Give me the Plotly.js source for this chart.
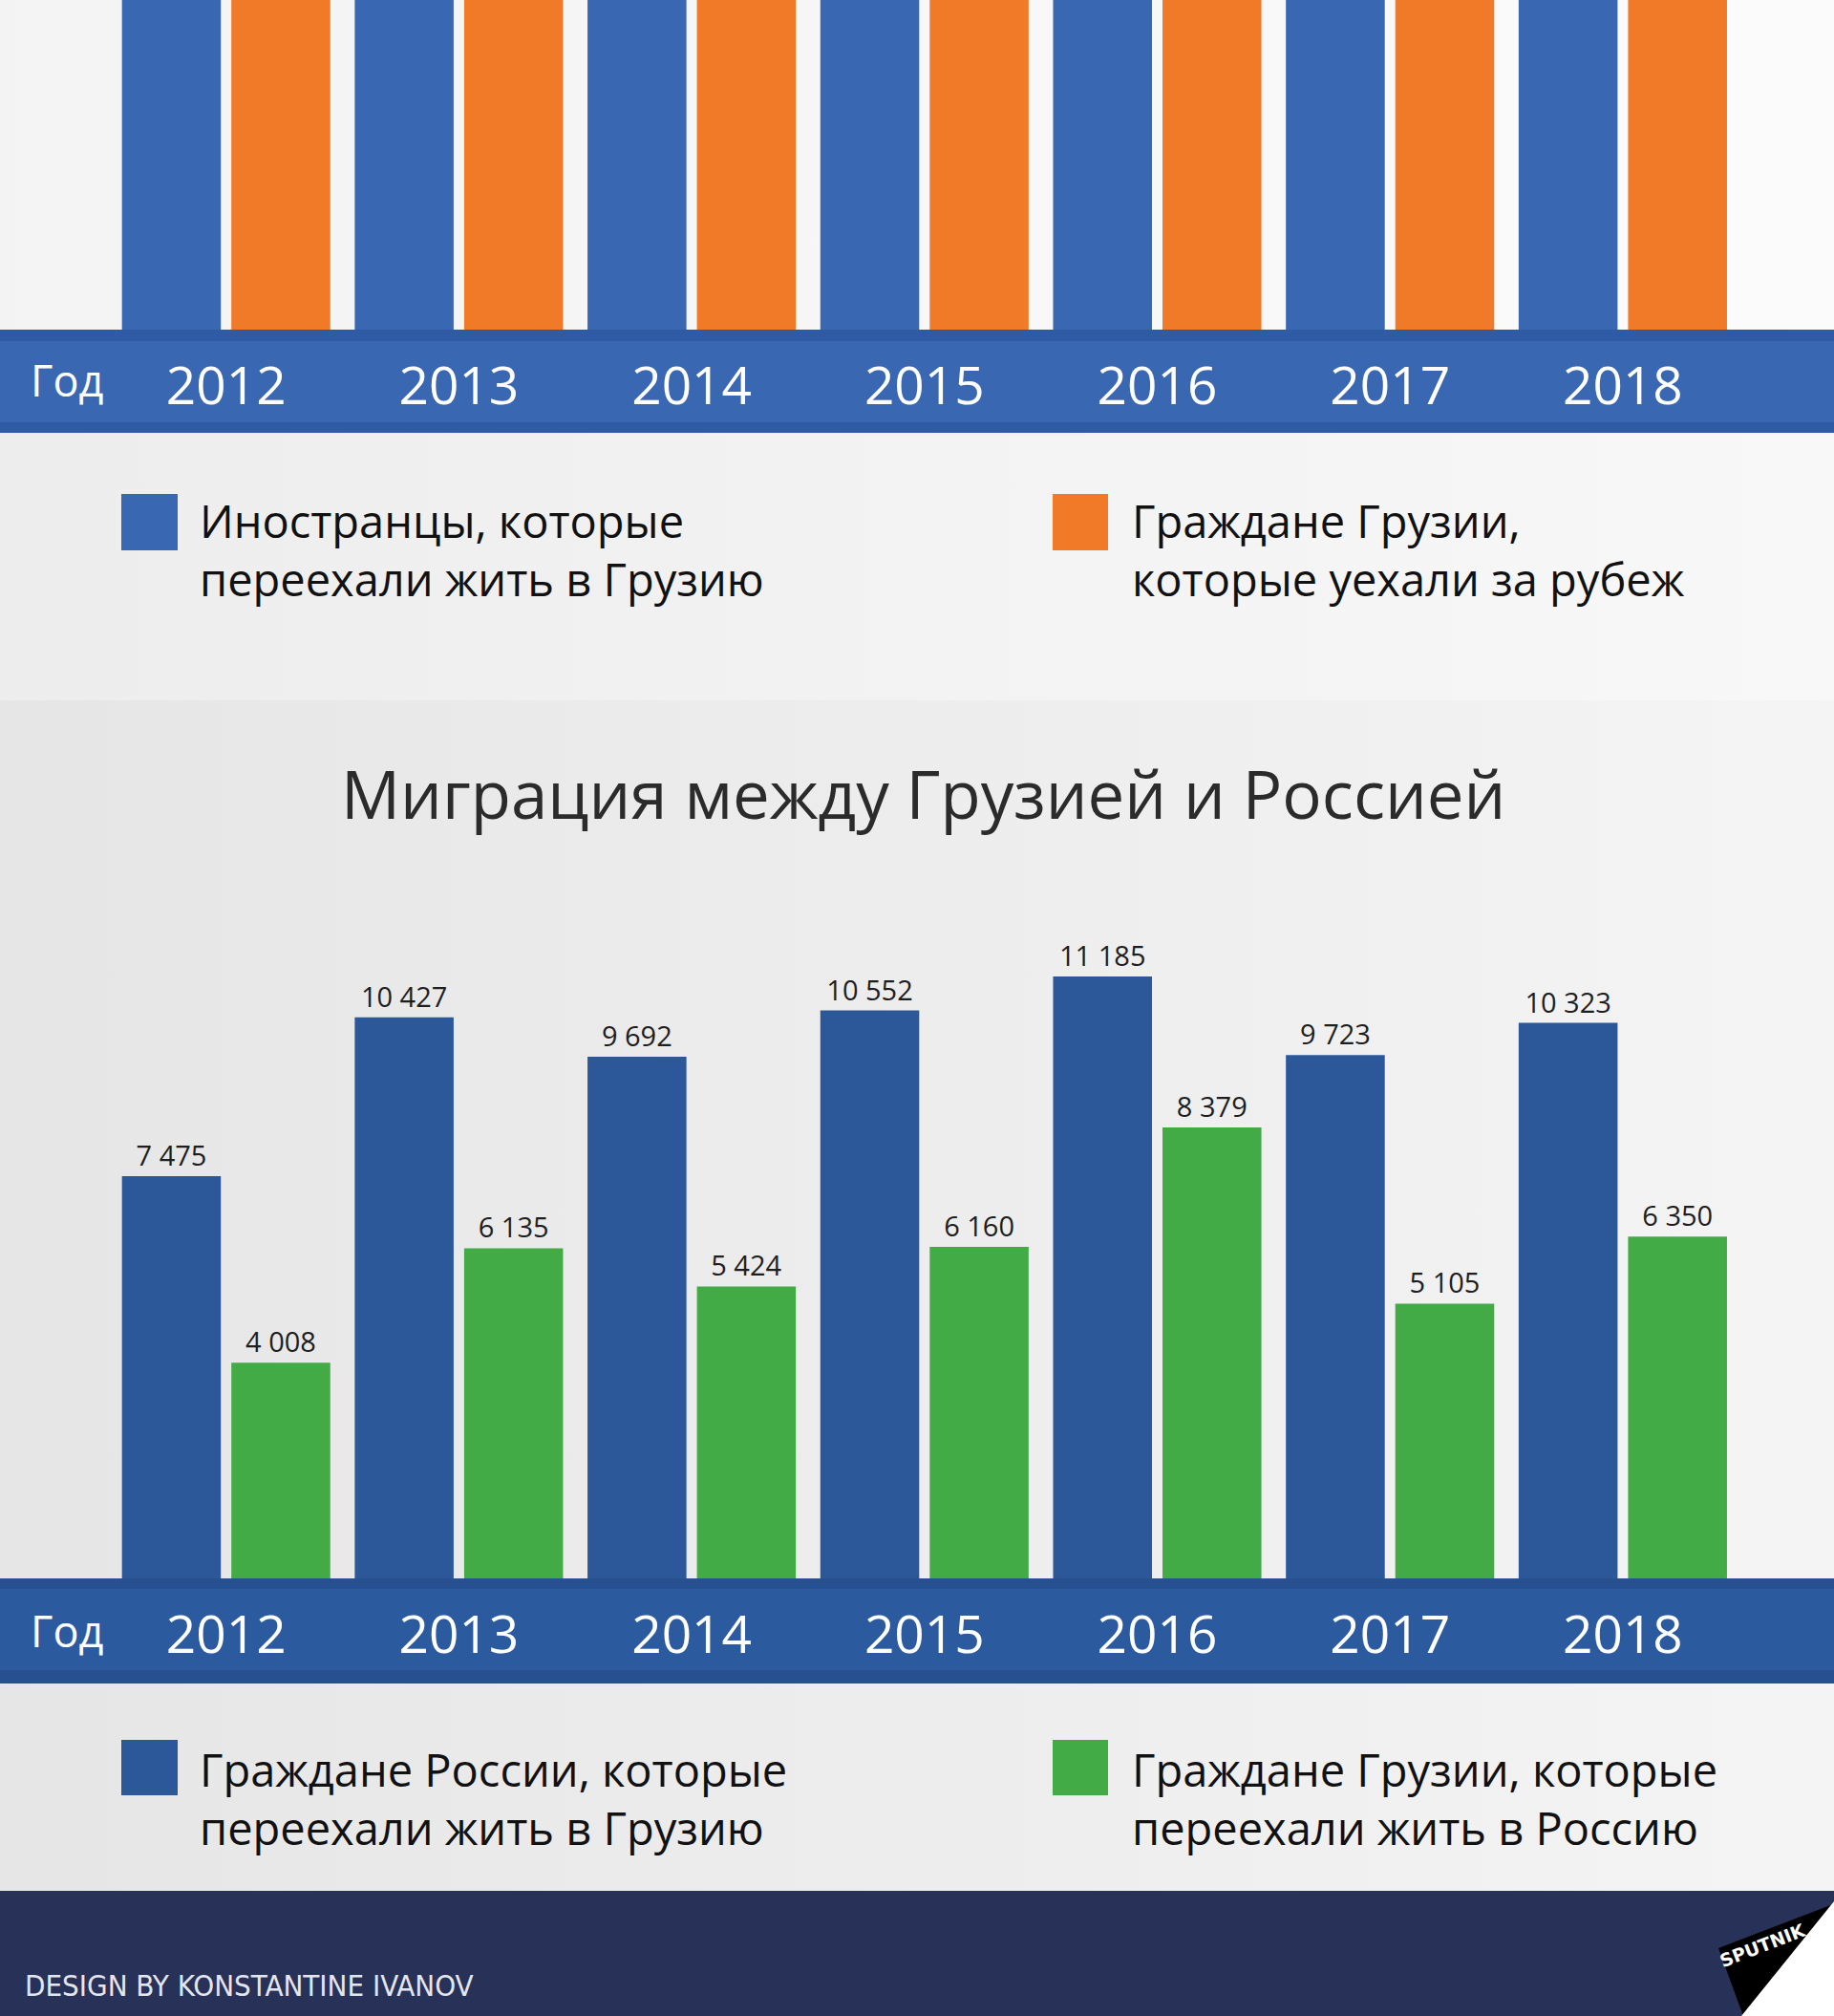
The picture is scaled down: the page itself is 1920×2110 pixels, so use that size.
<!DOCTYPE html>
<html>
<head>
<meta charset="utf-8">
<script src="https://cdn.plot.ly/plotly-3.0.1.min.js"></script>
<style>
  html, body { margin: 0; padding: 0; background: #f4f4f4; }
  #chart { width: 1920px; height: 2110px; }
</style>
</head>
<body>
<div id="chart"></div>
<script>
var years = ['2012', '2013', '2014', '2015', '2016', '2017', '2018'];

// upper chart: bars run off the top edge of the picture, only their lower part shows
var topForeigners = [6125, 6125, 6125, 6125, 6125, 6125, 6125];
var topEmigrants = [6125, 6125, 6125, 6125, 6125, 6125, 6125];

// lower chart: Georgia <-> Russia
var ruToGeorgia = [7475, 10427, 9692, 10552, 11185, 9723, 10323];
var geToRussia = [4008, 6135, 5424, 6160, 8379, 5105, 6350];

var legendTop = ['Иностранцы, которые<br>переехали жить в Грузию', 'Граждане Грузии,<br>которые уехали за рубеж'];
var legendBottom = ['Граждане России, которые<br>переехали жить в Грузию', 'Граждане Грузии, которые<br>переехали жить в Россию'];
var title = 'Миграция между Грузией и Россией';
var yearWord = 'Год';
var credit = 'DESIGN BY KONSTANTINE IVANOV';

var W = 1920, H = 2110;
function X(px) { return px / W; }
function Y(px) { return 1 - px / H; }

var FONT = 'Open Sans, Noto Sans, sans-serif';

var data = [
    {type: 'bar', x: years, y: topForeigners, xaxis: 'x', yaxis: 'y',
     marker: {color: '#3a67b2'}, hoverinfo: 'x+y'},
    {type: 'bar', x: years, y: topEmigrants, xaxis: 'x', yaxis: 'y',
     marker: {color: '#f17a29'}, hoverinfo: 'x+y'},
    {type: 'bar', x: years, y: ruToGeorgia, xaxis: 'x2', yaxis: 'y2',
     marker: {color: '#2c5899'}, texttemplate: '%{y:,}', textposition: 'outside',
     constraintext: 'none', cliponaxis: false,
     textfont: {family: FONT, size: 29, color: '#1e1e1e'}, hoverinfo: 'x+y'},
    {type: 'bar', x: years, y: geToRussia, xaxis: 'x2', yaxis: 'y2',
     marker: {color: '#43ab45'}, texttemplate: '%{y:,}', textposition: 'outside',
     constraintext: 'none', cliponaxis: false,
     textfont: {family: FONT, size: 29, color: '#1e1e1e'}, hoverinfo: 'x+y'}
];

var xRange = [-0.9713, 6.9072];
var xCommon = {
    type: 'category', range: xRange, showgrid: false, zeroline: false, showline: false,
    ticks: '', ticklabelstandoff: 22, fixedrange: true,
    tickfont: {family: FONT, size: 55, color: '#ffffff'}
};

var bgSvg = '<svg xmlns="http://www.w3.org/2000/svg" width="1920" height="2110">' +
    '<defs>' +
    '<linearGradient id="a" x1="0" x2="1" y1="0" y2="0"><stop offset="0" stop-color="#f3f3f3"/><stop offset="1" stop-color="#fbfbfb"/></linearGradient>' +
    '<linearGradient id="b" x1="0" x2="1" y1="0" y2="0"><stop offset="0" stop-color="#ededed"/><stop offset="1" stop-color="#f8f8f8"/></linearGradient>' +
    '<linearGradient id="c" x1="0" x2="1" y1="0" y2="0"><stop offset="0" stop-color="#e6e6e6"/><stop offset="1" stop-color="#f4f4f4"/></linearGradient>' +
    '</defs>' +
    '<rect x="0" y="0" width="1920" height="345" fill="url(#a)"/>' +
    '<rect x="0" y="453" width="1920" height="280" fill="url(#b)"/>' +
    '<rect x="0" y="733" width="1920" height="1246" fill="url(#c)"/>' +
    '</svg>';

function rect(x0, y0, x1, y1, color) {
    return {type: 'rect', xref: 'paper', yref: 'paper', layer: 'below',
            x0: X(x0), x1: X(x1), y0: Y(y1), y1: Y(y0),
            line: {width: 0}, fillcolor: color};
}
function poly(points, color) {
    var d = points.map(function (p, i) {
        return (i === 0 ? 'M' : 'L') + X(p[0]) + ',' + Y(p[1]);
    }).join(' ') + ' Z';
    return {type: 'path', xref: 'paper', yref: 'paper', layer: 'above', path: d,
            line: {width: 0}, fillcolor: color};
}

var shapes = [
    // top year band
    rect(0, 345, W, 357, '#2f5ba4'),
    rect(0, 357, W, 442, '#3a67b2'),
    rect(0, 442, W, 453, '#2f5ba4'),
    // bottom year band
    rect(0, 1652, W, 1663, '#26508f'),
    rect(0, 1663, W, 1748, '#2c5a9e'),
    rect(0, 1748, W, 1762, '#26508f'),
    // footer
    rect(0, 1979, W, H, '#283157'),
    // legend keys
    rect(127, 517, 186, 576, '#3a67b2'),
    rect(1102, 517, 1160, 576, '#f17a29'),
    rect(127, 1821, 186, 1879, '#2c5899'),
    rect(1102, 1821, 1160, 1879, '#43ab45'),
    // logo
    poly([[1799, 2039], [1919, 1993], [1825, 2110]], '#000000'),
    poly([[1920, 1990], [1920, 2110], [1823, 2110]], '#ffffff')
];

function note(text, xpx, ypx, size, color, xanchor, extra) {
    var a = {text: text, xref: 'paper', yref: 'paper', x: X(xpx), y: Y(ypx),
             xanchor: xanchor, yanchor: 'middle', align: 'left', showarrow: false,
             font: {family: FONT, size: size, color: color}};
    for (var k in extra) a[k] = extra[k];
    return a;
}

var annotations = [
    note(yearWord, 70, 397, 45, '#ffffff', 'center'),
    note(yearWord, 70, 1706, 45, '#ffffff', 'center'),
    note(legendTop[0], 207, 576, 47, '#111111', 'left'),
    note(legendTop[1], 1183, 576, 47, '#111111', 'left'),
    note(title, 966, 830, 69, '#2b2b2b', 'center'),
    note(legendBottom[0], 207, 1882, 47, '#111111', 'left'),
    note(legendBottom[1], 1183, 1882, 47, '#111111', 'left'),
    note(credit, 24, 2078, 31, '#e4e6ef', 'left',
         {font: {family: 'DejaVu Sans Condensed, Liberation Sans Narrow, sans-serif', size: 31, color: '#e4e6ef'}}),
    note('SPUTNIK', 1845, 2036, 19, '#ffffff', 'center',
         {textangle: -21, font: {family: 'DejaVu Sans, sans-serif', size: 19, color: '#ffffff', weight: 'bold'}})
];

var layout = {
    width: W, height: H,
    margin: {l: 0, r: 0, t: 0, b: 0},
    paper_bgcolor: '#f4f4f4',
    plot_bgcolor: 'rgba(0,0,0,0)',
    showlegend: false,
    separators: ', ',
    barmode: 'group',
    bargap: 0.06,
    bargroupgap: 0.096,
    xaxis: Object.assign({}, xCommon, {domain: [0, 1], anchor: 'y'}),
    xaxis2: Object.assign({}, xCommon, {domain: [0, 1], anchor: 'y2'}),
    yaxis: {domain: [Y(345), 1], range: [0, 6125], visible: false, fixedrange: true},
    yaxis2: {domain: [Y(1652), Y(733)], range: [0, 16315], visible: false, fixedrange: true},
    images: [{
        source: 'data:image/svg+xml;charset=utf-8,' + encodeURIComponent(bgSvg),
        xref: 'paper', yref: 'paper', x: 0, y: 1, sizex: 1, sizey: 1,
        sizing: 'stretch', xanchor: 'left', yanchor: 'top', layer: 'below'
    }],
    shapes: shapes,
    annotations: annotations
};

Plotly.newPlot('chart', data, layout, {displayModeBar: false, responsive: false});
</script>
</body>
</html>
